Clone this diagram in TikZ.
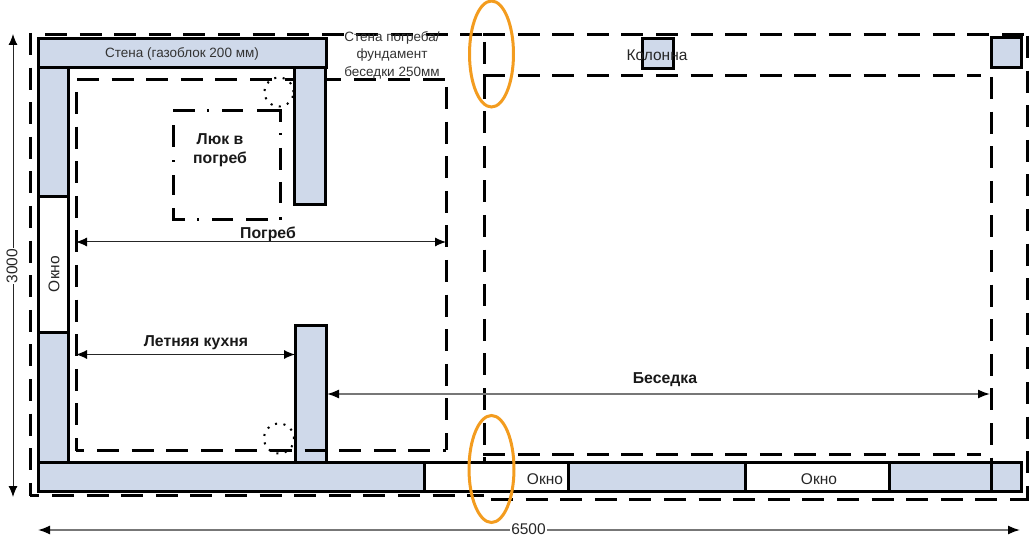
\documentclass[tikz,border=0pt]{standalone}
\usepackage{fontspec}
\setmainfont{Liberation Sans}
\usetikzlibrary{arrows.meta,shapes.geometric}
\definecolor{wallblue}{HTML}{CFD9EA}
\definecolor{ring}{HTML}{F39C1F}
\definecolor{dimgray}{HTML}{777777}
\tikzset{
  wallbox/.style={draw=black,line width=3pt,fill=wallblue,inner sep=0pt,outer sep=0pt,font=\fontsize{13.5}{15}\selectfont,text=black!80},
  winbox/.style={wallbox,fill=white,font=\fontsize{15.5}{17}\selectfont},
  longdash/.style={draw=black,line width=3pt,dash pattern=on 22pt off 12.6pt},
  hatchdash/.style={draw=black,line width=3pt},
  dotring/.style={draw=black,line width=2pt,dash pattern=on 2pt off 6.5pt},
  ringmark/.style={draw=ring,line width=3pt},
  dimthin/.style={draw=black!85,line width=1pt,{Latex[length=11pt,width=9pt,black]}-{Latex[length=11pt,width=9pt,black]}},
  dimgrey/.style={draw=dimgray,line width=1.6pt,{Latex[length=12pt,width=9pt,black]}-{Latex[length=12pt,width=9pt,black]}},
  boldlabel/.style={font=\fontsize{15.8}{19}\selectfont\bfseries,align=center,inner sep=0pt,text=black!90},
  plainlabel/.style={font=\fontsize{15.5}{17}\selectfont,inner sep=0pt,text=black!85},
  smalllabel/.style={font=\fontsize{13.5}{17.5}\selectfont,align=center,inner sep=0pt,text=black!80},
}
\newcommand{\blk}[7]{%
  \pgfmathsetmacro{\cxx}{(#3+#5)/2}\pgfmathsetmacro{\cyy}{(#4+#6)/2}%
  \pgfmathsetmacro{\ww}{#5-#3}\pgfmathsetmacro{\hh}{#6-#4}%
  \node[#2,minimum width=\ww pt,minimum height=\hh pt] (#1) at (\cxx,\cyy) {#7};}
\begin{document}
\begin{tikzpicture}[x=1pt,y=-1pt]
\useasboundingbox (0,0) rectangle (1029,540);
% outer foundation dashes
\draw[longdash] (30,33) -- (30,496);
\draw[longdash,dash phase=12.6pt] (30,495.5) -- (484,495.5);
\draw[longdash] (45,35) -- (484,35);
\draw[longdash] (483,35) -- (1029,35);
\draw[longdash] (491,499) -- (1029,499);
\draw[longdash] (1027.5,36) -- (1027.5,499);
\draw[longdash] (484,42) -- (484,470);
\draw[longdash] (483,76) -- (981,76);
\draw[longdash] (483,454.5) -- (981,454.5);
\draw[longdash] (991,77) -- (991,470);
% walls
\blk{wallLL}{wallbox}{38}{333}{68}{462}{}
\blk{wallInLow}{wallbox}{295}{326}{326}{462}{}
\blk{wallB1}{wallbox}{38}{462}{424}{491}{}
\blk{winB1}{winbox}{424}{462}{568}{491}{}
\node[plainlabel] (okB1) at (545,479) {Окно};
\blk{wallB2}{wallbox}{568}{462}{745}{491}{}
\blk{winB2}{winbox}{745}{462}{889}{491}{}
\node[plainlabel] (okB2) at (819,479) {Окно};
\blk{wallB3}{wallbox}{889}{462}{991}{491}{}
\blk{wallB4}{wallbox}{991}{462}{1021}{491}{}
% cellar dashes
\draw[longdash] (77,80) -- (447,80);
\draw[longdash] (446.5,87) -- (446.5,450);
\draw[longdash,dash phase=13.6pt] (76,450) -- (446,450);
\draw[longdash] (76,92) -- (76,451);
\blk{wallLU}{wallbox}{38}{68}{68}{197}{}
\blk{winL}{winbox}{38}{197}{68}{333}{}
\node[plainlabel,rotate=90] (okL) at (54,274) {Окно};
\blk{wallInUp}{wallbox}{294}{68}{325}{205}{}
\blk{wallTop}{wallbox}{38}{39}{326}{68}{Стена (газоблок 200 мм)}
\blk{colA}{wallbox}{642}{39}{673}{69}{}
\blk{colB}{wallbox}{991}{38}{1021}{68}{}
\node[plainlabel] (colLabel) at (657,55) {Колонна};
% hatch
\draw[hatchdash] (173,111) -- (195,111) (207,111) -- (209,111) (222,111) -- (243,111) (257,111) -- (280,111) -- (280,122)
  (280,133) -- (280,135) (280,148) -- (280,170) (280,182) -- (280,203) (280,217.5) -- (280,220)
  (268,219.5) -- (246,219.5) (233,219.5) -- (212,219.5) (199,219.5) -- (197,219.5) (185,219.5) -- (173,219.5) -- (173,208)
  (173,195) -- (173,175) (173,162) -- (173,160) (173,147) -- (173,125);
% dotted circles
\node[dotring,circle,minimum size=29pt,inner sep=0pt] (ringUp) at (279,92) {};
\node[dotring,circle,minimum size=30pt,inner sep=0pt] (ringLow) at (279,438.5) {};
% orange
\node[ringmark,ellipse,minimum width=44pt,minimum height=106pt,inner sep=0pt] (markUp) at (491.5,54) {};
\node[ringmark,ellipse,minimum width=45pt,minimum height=107pt,inner sep=0pt] (markLow) at (491.5,469) {};
% labels
\node[smalllabel] (foundLabel) at (392,55) {Стена погреба/\\фундамент\\беседки 250мм};
\node[boldlabel] (hatchLabel) at (220,150.5) {Люк в\\погреб};
\node[boldlabel] (cellarLabel) at (268,234.5) {Погреб};
\node[boldlabel] (kitchenLabel) at (196,342.5) {Летняя кухня};
\node[boldlabel] (gazeboLabel) at (665,379.5) {Беседка};
% dimension arrows
\coordinate (c1) at (76,242); \coordinate (c2) at (446,242);
\coordinate (k1) at (76,354.5); \coordinate (k2) at (295,354.5);
\coordinate (g1) at (327,394); \coordinate (g2) at (990,394);
\coordinate (v1) at (13,34); \coordinate (v2) at (13,497);
\coordinate (h1) at (38,530); \coordinate (h2) at (1020,530);
\draw[dimthin] (c1) -- (c2);
\draw[dimthin] (k1) -- (k2);
\draw[dimgrey] (g1) -- (g2);
\draw[dimthin] (v1) -- (v2);
\node[plainlabel,fill=white,inner sep=1pt,rotate=90] (vLabel) at (12,266) {3000};
\draw[dimgrey] (h1) -- (h2);
\node[plainlabel,fill=white,inner sep=1pt] (hLabel) at (528.5,529) {6500};
\end{tikzpicture}
\end{document}
